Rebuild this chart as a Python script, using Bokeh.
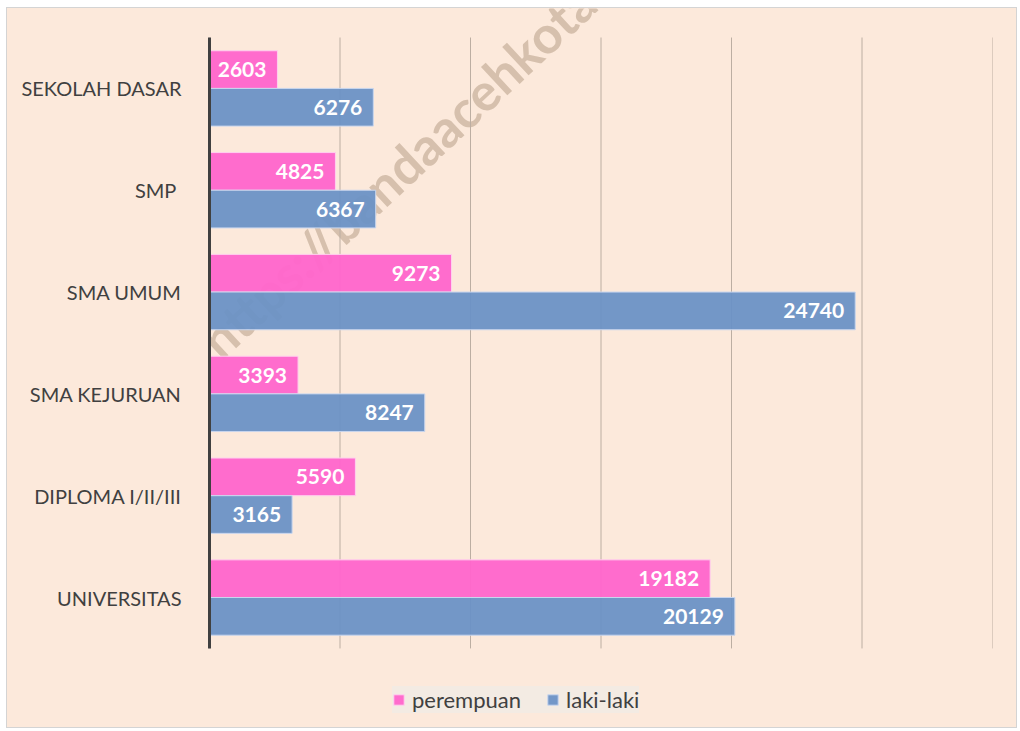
from bokeh.plotting import figure
from bokeh.models import (ColumnDataSource, Range1d, FixedTicker, Legend,
                          LegendItem, LabelSet, Label)
from bokeh.transform import dodge
from bokeh.embed import file_html
from bokeh.resources import INLINE
from bokeh.core.properties import value
import math

categories = ["SEKOLAH DASAR", "SMP ", "SMA UMUM", "SMA KEJURUAN", "DIPLOMA I/II/III", "UNIVERSITAS"]
perempuan = [2603, 4825, 9273, 3393, 5590, 19182]
laki_laki = [6276, 6367, 24740, 8247, 3165, 20129]
x_ticks = [0, 5000, 10000, 15000, 20000, 25000, 30000]

PINK = "#FF66CC"
BLUE = "#6A92C6"
BG = "#FCE9DB"
FONT = "Lato"

n = len(categories)
ypos = [n - 0.5 - i for i in range(n)]

src = ColumnDataSource(dict(
    y=ypos,
    p=perempuan,
    l=laki_laki,
    pt=[str(v) for v in perempuan],
    lt=[str(v) for v in laki_laki],
))

p = figure(width=1011, height=721, output_backend="svg", toolbar_location=None,
           y_range=Range1d(-0.757, n + 0.285), x_range=Range1d(0, 30000),
           min_border_left=202, min_border_right=26, min_border_top=0, min_border_bottom=4)
p.styles = {"border": "1px solid #d4d4d4", "margin-left": "6px", "margin-top": "7px",
            "background-color": BG}
p.background_fill_color = None
p.border_fill_color = BG
p.outline_line_color = None

# watermark (behind the bars)
wm = Label(x=-60, y=2.96, text="https://bandaacehkota.bps.go.id", angle=math.radians(43),
           text_align="left", text_baseline="middle",
           text_font=FONT, text_font_style="bold", text_font_size="52px",
           text_color="#d6c0ad", text_alpha=1.0, level="underlay")
p.add_layout(wm)

# vertical gridlines
p.segment(x0=x_ticks, x1=x_ticks, y0=[0] * len(x_ticks), y1=[n] * len(x_ticks),
          line_color="#bcaea2", line_width=1)

r_p = p.hbar(y=dodge("y", 0.185), right="p", height=0.37, left=0, source=src,
             fill_color=PINK, fill_alpha=0.96, line_color="#ffd0ee", line_width=1)
r_l = p.hbar(y=dodge("y", -0.185), right="l", height=0.37, left=0, source=src,
             fill_color=BLUE, fill_alpha=0.94, line_color="#c8d6ee", line_width=1)

for col, txt, off in (("p", "pt", 0.185), ("l", "lt", -0.185)):
    p.add_layout(LabelSet(x=col, y=dodge("y", off), text=txt, source=src,
                          x_offset=-11, text_align="right", text_baseline="middle",
                          text_color="white", text_font=value(FONT), text_font_style="bold",
                          text_font_size="21px"))

p.xaxis.visible = False
p.grid.visible = False

p.yaxis.ticker = FixedTicker(ticks=ypos)
p.yaxis.major_label_overrides = {y: c for y, c in zip(ypos, categories)}
p.yaxis.bounds = (0, n)
p.yaxis.axis_line_color = "#404040"
p.yaxis.axis_line_width = 3
p.yaxis.major_tick_line_color = None
p.yaxis.minor_tick_line_color = None
p.yaxis.major_label_standoff = 22
p.yaxis.major_label_text_font = FONT
p.yaxis.major_label_text_font_size = "20px"
p.yaxis.major_label_text_color = "#404040"

legend = Legend(items=[LegendItem(label="perempuan", renderers=[r_p]),
                       LegendItem(label="laki-laki", renderers=[r_l])],
                orientation="horizontal", location=(183, 12),
                background_fill_color="#F3EBE3", background_fill_alpha=1,
                border_line_color=None, label_text_font=FONT, label_text_font_size="22px",
                label_text_color="#404040", glyph_width=13, glyph_height=13,
                spacing=25, padding=12, margin=0, label_standoff=7)
p.add_layout(legend)

open("out.html", "w").write(file_html(p, INLINE))
